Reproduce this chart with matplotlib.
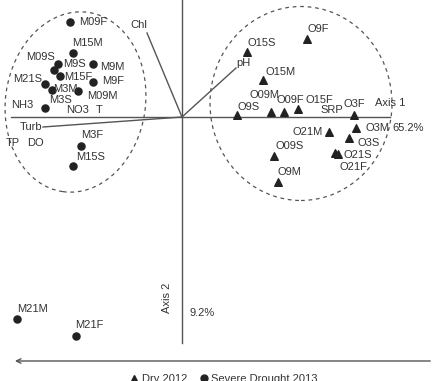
import matplotlib
matplotlib.use("Agg")
import matplotlib.pyplot as plt
from matplotlib.patches import Ellipse
from matplotlib.lines import Line2D

plt.rcParams['font.family'] = ['Liberation Sans', 'DejaVu Sans']

# Site scores, Severe Drought 2013 (circles)
drought_names = ["M09F", "M15M", "M09S", "M9S", "M9M", "M15F", "M9F", "M21S",
                 "M3M", "M09M", "M3S", "M3F", "M15S", "M21M", "M21F"]
drought_x = [-1.12, -1.09, -1.24, -1.28, -0.89, -1.22, -0.89, -1.37,
             -1.30, -1.04, -1.37, -1.01, -1.09, -1.65, -1.06]
drought_y = [0.95, 0.64, 0.53, 0.47, 0.53, 0.41, 0.35, 0.33,
             0.27, 0.26, 0.09, -0.29, -0.49, -2.02, -2.19]

# Site scores, Dry 2012 (triangles)
dry_names = ["O9F", "O15S", "O15M", "O09M", "O09F", "O15F", "O9S", "O3F",
             "O21M", "O3M", "O3S", "O21S", "O21F", "O09S", "O9M"]
dry_x = [1.25, 0.65, 0.81, 0.89, 1.02, 1.16, 0.55, 1.72,
         1.47, 1.74, 1.67, 1.56, 1.53, 0.92, 0.96]
dry_y = [0.78, 0.65, 0.37, 0.05, 0.05, 0.08, 0.02, 0.02,
         -0.15, -0.11, -0.21, -0.37, -0.36, -0.39, -0.65]

# Environmental vectors drawn as lines
vec_names = ["Chl", "pH", "Turb"]
vec_x = [-0.35, 0.54, -1.39]
vec_y = [0.84, 0.49, -0.10]

# Environmental variables shown by label only
env_names = ["NH3", "NO3", "T", "TP", "DO", "SRP"]
env_x = [-1.60, -1.04, -0.83, -1.69, -1.47, 1.50]
env_y = [0.12, 0.07, 0.07, -0.26, -0.26, 0.07]

# label offsets in pixels (dx, dy, ha)
label_off = {
    "M09F": (9, 0, "left"), "M15M": (-1, 10, "left"), "M09S": (-3, 7, "right"),
    "M9S": (9, 6, "left"), "M9M": (7, -3, "left"), "M15F": (4, -1, "left"),
    "M9F": (9, 1, "left"), "M21S": (-3, 5, "right"), "M3M": (1, 1, "left"),
    "M09M": (9, -5, "left"), "M3S": (4, 8, "left"), "M3F": (0, 11, "left"),
    "M15S": (3, 9, "left"), "M21M": (0, 10, "left"), "M21F": (-1, 11, "left"),
    "O9F": (0, 10, "left"), "O15S": (0, 9, "left"), "O15M": (3, 8, "left"),
    "O09M": (-7, 17, "center"), "O09F": (6, 12, "center"), "O15F": (7, 9, "left"),
    "O9S": (0, 8, "left"), "O3F": (0, 11, "center"), "O21M": (-6, 0, "right"),
    "O3M": (9, 0, "left"), "O3S": (8, -5, "left"), "O21S": (6, -1, "left"),
    "O21F": (5, -14, "left"), "O09S": (1, 10, "left"), "O9M": (0, 10, "left"),
    "Chl": (0, 8, "right"), "pH": (0, 5, "left"), "Turb": (-1, 0, "right"),
}

txt_color = "#333333"
line_color = "#555555"
fs = 8

fig = plt.figure(figsize=(4.33, 3.81), dpi=100)
ax = fig.add_axes([0, 0, 1, 1])
ax.set_xlim(-1.82, 2.51)
ax.set_ylim(-2.64, 1.17)
ax.axis("off")

# axes through origin
ax.plot([-1.71, 2.08], [0, 0], color=line_color, lw=1.0)
ax.plot([0, 0], [-2.26, 1.17], color=line_color, lw=1.0)

# group ellipses
ax.add_patch(Ellipse((-1.065, 0.15), 1.40, 1.81, angle=-8, fill=False,
                     ls=(0, (3, 3)), lw=0.9, color="#555555"))
ax.add_patch(Ellipse((1.19, 0.135), 1.82, 1.94, angle=0, fill=False,
                     ls=(0, (3, 3)), lw=0.9, color="#555555"))

# vectors
for n, x, y in zip(vec_names, vec_x, vec_y):
    ax.plot([0, x], [0, y], color=line_color, lw=1.0)
    dx, dy, ha = label_off[n]
    ax.annotate(n, (x, y), xytext=(dx, dy), textcoords="offset pixels",
                ha=ha, va="center", fontsize=fs, color=txt_color)

for n, x, y in zip(env_names, env_x, env_y):
    ax.text(x, y, n, ha="center", va="center", fontsize=fs, color=txt_color)

ax.scatter(drought_x, drought_y, marker="o", s=26, color="#222222", zorder=3)
ax.scatter(dry_x, dry_y, marker="^", s=30, color="#222222", zorder=3)

for names, xs, ys in [(drought_names, drought_x, drought_y), (dry_names, dry_x, dry_y)]:
    for n, x, y in zip(names, xs, ys):
        dx, dy, ha = label_off[n]
        ax.annotate(n, (x, y), xytext=(dx, dy), textcoords="offset pixels",
                    ha=ha, va="center", fontsize=fs, color=txt_color)

# axis labels
ax.text(2.08, 0.14, "Axis 1", ha="center", va="center", fontsize=fs, color=txt_color)
ax.text(2.10, -0.11, "65.2%", ha="left", va="center", fontsize=fs, color=txt_color)
ax.text(-0.15, -1.81, "Axis 2", ha="center", va="center", rotation=90,
        fontsize=fs, color=txt_color)
ax.text(0.07, -1.96, "9.2%", ha="left", va="center", fontsize=fs, color=txt_color)

# bottom arrow
ax.annotate("", xy=(0.028, 0.0525), xytext=(1.0, 0.0525), xycoords="axes fraction",
            arrowprops=dict(arrowstyle="->", color=line_color, lw=1.0,
                            mutation_scale=8))

handles = [Line2D([], [], marker="^", ls="", color="#222222", ms=5, label="Dry 2012"),
           Line2D([], [], marker="o", ls="", color="#222222", ms=5,
                  label="Severe Drought 2013")]
leg = ax.legend(handles=handles, loc="center", bbox_to_anchor=(0.515, 0.005),
                ncol=2, frameon=False, fontsize=fs, handletextpad=0.2,
                columnspacing=1.0, handlelength=1.0)
for t in leg.get_texts():
    t.set_color(txt_color)

fig.savefig("out.png", dpi=100)
